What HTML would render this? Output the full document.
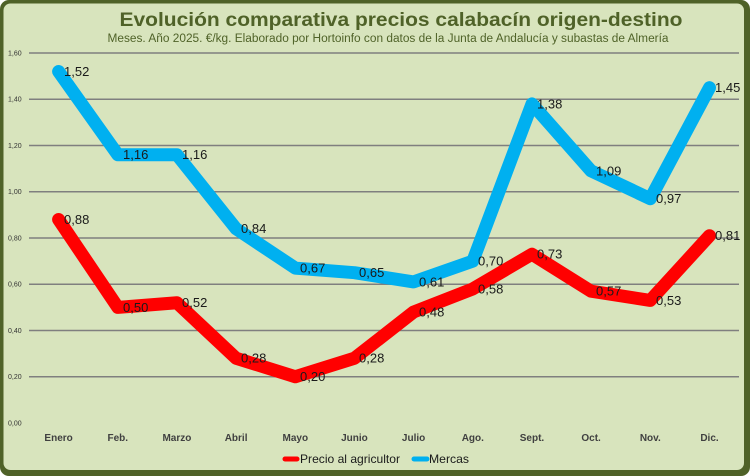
<!DOCTYPE html>
<html><head><meta charset="utf-8"><style>
html,body{margin:0;padding:0;background:#fff;}
svg{display:block;}
text{font-family:"Liberation Sans",sans-serif;}
</style></head><body>
<svg width="750" height="476" viewBox="0 0 750 476" xmlns="http://www.w3.org/2000/svg">
<rect x="0" y="0" width="750" height="476" rx="9" fill="#4f6228"/>
<rect x="3.5" y="3.5" width="740.5" height="466.5" rx="7" fill="#d8e4bd"/>
<text x="401" y="26" text-anchor="middle" font-size="19" font-weight="bold" fill="#4f6228" textLength="563" lengthAdjust="spacingAndGlyphs">Evolución comparativa precios calabacín origen-destino</text>
<text x="388" y="42" text-anchor="middle" font-size="11.5" fill="#4f6228" textLength="561" lengthAdjust="spacingAndGlyphs">Meses. Año 2025. €/kg. Elaborado por Hortoinfo con datos de la Junta de Andalucía y subastas de Almería</text>
<g stroke="#7f7f7f" stroke-width="1.5">
<line x1="29" y1="53" x2="739" y2="53"/>
<line x1="29" y1="99.25" x2="739" y2="99.25"/>
<line x1="29" y1="145.5" x2="739" y2="145.5"/>
<line x1="29" y1="191.75" x2="739" y2="191.75"/>
<line x1="29" y1="238" x2="739" y2="238"/>
<line x1="29" y1="284.25" x2="739" y2="284.25"/>
<line x1="29" y1="330.5" x2="739" y2="330.5"/>
<line x1="29" y1="376.75" x2="739" y2="376.75"/>
</g>
<g font-size="7" fill="#333">
<text x="8" y="55.5">1,60</text>
<text x="8" y="101.5">1,40</text>
<text x="8" y="148">1,20</text>
<text x="8" y="194">1,00</text>
<text x="8" y="240.5">0,80</text>
<text x="8" y="286.5">0,60</text>
<text x="8" y="333">0,40</text>
<text x="8" y="379">0,20</text>
<text x="8" y="425.5">0,00</text>
</g>
<g font-size="10" font-weight="bold" fill="#404040" text-anchor="middle">
<text x="58.6" y="441">Enero</text>
<text x="117.8" y="441">Feb.</text>
<text x="176.9" y="441">Marzo</text>
<text x="236.1" y="441">Abril</text>
<text x="295.3" y="441">Mayo</text>
<text x="354.4" y="441">Junio</text>
<text x="413.6" y="441">Julio</text>
<text x="472.8" y="441">Ago.</text>
<text x="532" y="441">Sept.</text>
<text x="591.1" y="441">Oct.</text>
<text x="650.3" y="441">Nov.</text>
<text x="709.5" y="441">Dic.</text>
</g>
<polyline fill="none" stroke="#ff0000" stroke-width="13" stroke-linecap="round" stroke-linejoin="round" points="58.6,219.5 117.8,307.4 176.9,302.75 236.1,358.25 295.3,376.75 354.4,358.25 413.6,312 472.8,288.9 532,254.2 591.1,291.2 650.3,300.4 709.5,235.7"/>
<polyline fill="none" stroke="#00b0f0" stroke-width="13" stroke-linecap="round" stroke-linejoin="round" points="58.6,71.5 117.8,154.75 176.9,154.75 236.1,228.75 295.3,268.1 354.4,272.7 413.6,281.9 472.8,261.1 532,103.9 591.1,170.9 650.3,198.7 709.5,87.7"/>
<g font-size="13" fill="#1a1a1a">
<text x="64" y="76">1,52</text>
<text x="123" y="159">1,16</text>
<text x="182" y="159">1,16</text>
<text x="241" y="233">0,84</text>
<text x="300" y="272.5">0,67</text>
<text x="359" y="277">0,65</text>
<text x="419" y="286.5">0,61</text>
<text x="478" y="265.5">0,70</text>
<text x="537" y="108.5">1,38</text>
<text x="596" y="175.5">1,09</text>
<text x="656" y="203">0,97</text>
<text x="715" y="92">1,45</text>
<text x="64" y="224">0,88</text>
<text x="123" y="312">0,50</text>
<text x="182" y="307">0,52</text>
<text x="241" y="362.5">0,28</text>
<text x="300" y="381">0,20</text>
<text x="359" y="362.5">0,28</text>
<text x="419" y="316.5">0,48</text>
<text x="478" y="293.5">0,58</text>
<text x="537" y="258.5">0,73</text>
<text x="596" y="295.5">0,57</text>
<text x="656" y="305">0,53</text>
<text x="715" y="240">0,81</text>
</g>
<line x1="285" y1="459" x2="297" y2="459" stroke="#ff0000" stroke-width="5" stroke-linecap="round"/>
<text x="300" y="463" font-size="12" fill="#1a1a1a" textLength="100" lengthAdjust="spacingAndGlyphs">Precio al agricultor</text>
<line x1="414" y1="459" x2="427" y2="459" stroke="#00b0f0" stroke-width="5" stroke-linecap="round"/>
<text x="429" y="463" font-size="12" fill="#1a1a1a" textLength="40" lengthAdjust="spacingAndGlyphs">Mercas</text>
</svg>
</body></html>
